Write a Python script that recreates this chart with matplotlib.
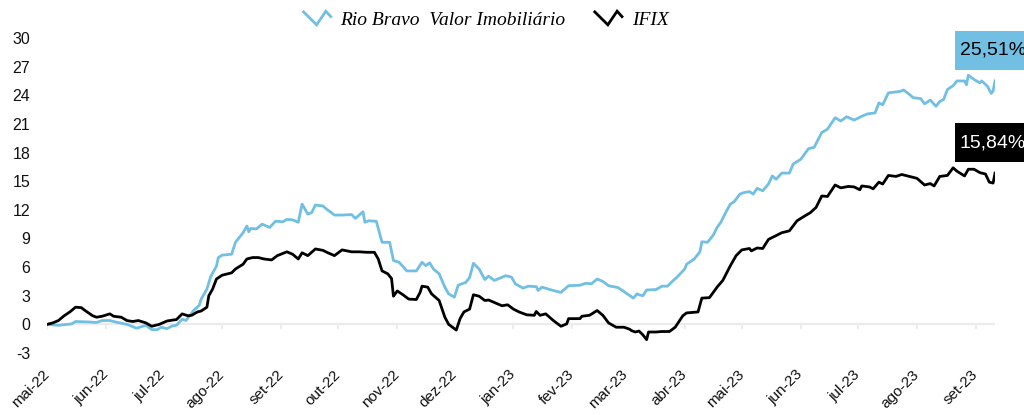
import numpy as np
import pandas as pd
import matplotlib
matplotlib.use("Agg")
import matplotlib.pyplot as plt
from matplotlib.lines import Line2D
from matplotlib.legend_handler import HandlerBase
from matplotlib.patches import Rectangle

# ---------------- data ----------------
base_date = "2022-05-01"

rb_days = [0, 6, 13, 15, 22, 26, 29, 33, 36, 42, 47, 52, 55, 58, 60, 63, 66, 68, 71, 73,
           75, 77, 80, 81, 84, 86, 89, 90, 92, 97, 99, 103, 105, 106, 107, 110, 113, 117, 120, 124,
           126, 129, 132, 134, 137, 139, 141, 145, 147, 151, 155, 160, 162, 166, 167, 169, 173, 176, 180, 182,
           185, 189, 194, 197, 199, 201, 203, 206, 209, 211, 214, 216, 220, 222, 224, 227, 230, 232, 235, 238,
           241, 244, 246, 250, 253, 257, 258, 260, 265, 270, 274, 280, 283, 286, 289, 292, 295, 300, 303, 308,
           310, 311, 313, 315, 320, 323, 326, 329, 331, 335, 336, 340, 343, 344, 347, 350, 352, 354, 357, 359,
           361, 364, 366, 369, 371, 373, 376, 379, 381, 383, 386, 390, 392, 396, 400, 403, 407, 410, 414, 417,
           420, 424, 428, 431, 435, 437, 439, 442, 448, 450, 453, 455, 459, 461, 464, 467, 469, 471, 473, 476,
           478, 482, 483, 484, 487, 490, 491, 494, 496, 497, 498]
rb_vals = [0.0, -0.1, 0.05, 0.3, 0.25, 0.2, 0.4, 0.4, 0.25, 0.0, -0.4, -0.1, -0.55, -0.55, -0.3, -0.45, -0.15, -0.1, 0.55, 0.4,
           0.9, 1.45, 2.0, 2.65, 3.7, 5.0, 6.1, 7.0, 7.25, 7.35, 8.6, 9.6, 10.3, 9.7, 10.05, 10.0, 10.5, 10.15, 10.8, 10.75,
           11.0, 10.95, 10.7, 12.6, 11.55, 11.7, 12.5, 12.4, 12.05, 11.45, 11.45, 11.5, 11.1, 11.8, 10.7, 10.85, 10.8, 8.6, 8.6, 6.7,
           6.5, 5.6, 5.6, 6.5, 6.15, 6.45, 5.8, 5.3, 3.9, 3.2, 2.85, 4.1, 4.4, 4.9, 6.4, 5.8, 4.7, 5.05, 4.6, 4.85,
           5.1, 4.95, 4.25, 3.8, 4.0, 3.95, 3.55, 3.9, 3.6, 3.35, 4.05, 4.1, 4.3, 4.25, 4.75, 4.5, 4.05, 3.85, 3.45, 2.75,
           3.2, 3.1, 3.0, 3.6, 3.65, 4.0, 4.0, 4.6, 4.95, 5.8, 6.3, 6.85, 7.6, 8.65, 8.6, 9.35, 10.15, 10.7, 11.9, 12.6,
           12.85, 13.65, 13.8, 13.9, 13.65, 14.25, 14.0, 14.7, 15.55, 15.2, 15.85, 15.85, 16.8, 17.3, 18.4, 18.55, 20.1, 20.45, 21.65, 21.3,
           21.75, 21.4, 21.8, 22.05, 22.15, 23.2, 23.0, 24.25, 24.4, 24.55, 24.1, 23.75, 23.65, 23.1, 23.5, 22.85, 23.35, 23.55, 24.6, 25.0,
           25.5, 25.5, 25.1, 26.1, 25.65, 25.3, 25.5, 24.95, 24.2, 24.45, 25.51]

ifix_days = [0, 3, 6, 9, 12, 15, 18, 20, 24, 26, 29, 33, 35, 39, 42, 45, 48, 52, 55, 59,
             63, 66, 68, 71, 74, 76, 79, 81, 84, 85, 87, 89, 92, 97, 99, 103, 105, 108, 111, 114,
             118, 121, 126, 129, 132, 134, 137, 141, 145, 147, 151, 155, 160, 164, 168, 172, 174, 176, 179, 181,
             182, 184, 187, 190, 194, 196, 197, 200, 202, 206, 209, 211, 215, 217, 219, 222, 224, 227, 230, 232,
             236, 239, 242, 245, 248, 252, 256, 257, 259, 262, 266, 270, 273, 274, 280, 281, 285, 289, 292, 295,
             299, 303, 306, 307, 309, 310, 311, 313, 315, 316, 320, 323, 327, 330, 334, 336, 342, 344, 348, 352,
             355, 359, 362, 365, 369, 370, 373, 376, 379, 382, 386, 390, 394, 398, 401, 404, 407, 410, 414, 417,
             421, 424, 427, 428, 432, 434, 437, 439, 442, 446, 449, 453, 457, 461, 464, 466, 469, 473, 476, 478,
             482, 484, 487, 490, 493, 495, 497, 498]
ifix_vals = [0.0, 0.15, 0.4, 0.9, 1.3, 1.8, 1.75, 1.45, 0.9, 0.75, 0.85, 1.1, 0.85, 0.75, 0.4, 0.3, 0.4, 0.15, -0.2, 0.0,
             0.35, 0.45, 0.5, 1.1, 0.9, 0.95, 1.3, 1.4, 1.8, 3.0, 3.7, 4.75, 5.15, 5.4, 5.8, 6.3, 6.85, 7.0, 7.0, 6.85,
             6.75, 7.2, 7.6, 7.35, 6.85, 7.5, 7.2, 7.9, 7.75, 7.55, 7.2, 7.8, 7.6, 7.6, 7.55, 7.55, 6.85, 5.6, 5.3, 4.8,
             2.95, 3.5, 3.1, 2.65, 2.6, 3.35, 4.0, 3.9, 3.2, 2.5, 0.75, 0.0, -0.6, 0.6, 1.3, 1.6, 3.1, 2.95, 2.5, 2.55,
             2.2, 1.95, 2.05, 1.6, 1.3, 1.0, 0.95, 1.35, 0.95, 1.1, 0.4, -0.2, 0.05, 0.6, 0.6, 0.85, 0.95, 1.45, 0.95, 0.15,
             -0.3, -0.3, -0.5, -0.65, -0.8, -0.75, -0.7, -1.1, -1.6, -0.8, -0.8, -0.75, -0.75, -0.3, 0.9, 1.2, 1.3, 2.75, 2.8, 3.9,
             4.6, 6.15, 7.2, 7.8, 7.95, 7.7, 8.0, 7.95, 8.9, 9.2, 9.6, 9.8, 10.85, 11.35, 11.7, 12.25, 13.45, 13.4, 14.6, 14.3,
             14.45, 14.4, 14.1, 14.5, 14.4, 14.2, 14.9, 14.7, 15.6, 15.5, 15.7, 15.5, 15.3, 14.6, 14.75, 14.5, 15.5, 15.6, 16.4, 16.05,
             15.55, 16.25, 16.25, 15.9, 15.75, 14.9, 14.8, 15.84]

month_ticks = pd.date_range("2022-05-01", "2023-09-01", freq="MS")
month_labels = ["mai-22", "jun-22", "jul-22", "ago-22", "set-22", "out-22", "nov-22", "dez-22",
                "jan-23", "fev-23", "mar-23", "abr-23", "mai-23", "jun-23", "jul-23", "ago-23", "set-23"]
y_ticks = [-3, 0, 3, 6, 9, 12, 15, 18, 21, 24, 27, 30]

series_names = ["Rio Bravo  Valor Imobiliário", "IFIX"]
final_labels = ["25,51%", "15,84%"]

# ---------------- style ----------------
BLUE = "#71BFE3"
BLACK = "#000000"
SANS = ["Liberation Sans", "DejaVu Sans"]
SERIF = ["Liberation Serif", "DejaVu Serif"]

t0 = pd.Timestamp(base_date)
rb_x = t0 + pd.to_timedelta(rb_days, unit="D")
ifix_x = t0 + pd.to_timedelta(ifix_days, unit="D")

fig = plt.figure(figsize=(10.24, 4.15), dpi=100)
ax = fig.add_axes([47 / 1024, 1 - 353 / 415, (995 - 47) / 1024, (353 - 38) / 415])

l1, = ax.plot(rb_x, rb_vals, color=BLUE, lw=2.0, solid_joinstyle="round", zorder=3)
l2, = ax.plot(ifix_x, ifix_vals, color=BLACK, lw=2.0, solid_joinstyle="round", zorder=4)

ax.set_xlim(t0, t0 + pd.Timedelta(days=498))
ax.set_ylim(-3, 30)

for s in ax.spines.values():
    s.set_visible(False)

# zero baseline and small tick marks
ax.axhline(0, color="#ebebeb", lw=1.6, zorder=1)
for d in month_ticks:
    ax.plot([d, d], [0, -0.45], color="#ebebeb", lw=1.3, zorder=1, solid_capstyle="butt")

ax.set_yticks(y_ticks)
ax.set_yticklabels([str(v) for v in y_ticks], fontsize=11.5, family=SANS, color="#111111")
ax.tick_params(axis="y", length=0, pad=12)

ax.set_xticks(month_ticks)
ax.set_xticklabels(month_labels, rotation=45, ha="right", va="center",
                   rotation_mode="anchor", fontsize=11, family=SANS, color="#111111")
ax.tick_params(axis="x", length=0, pad=14)

# end-value boxes
end_day = t0 + pd.Timedelta(days=477)
box_w = pd.Timedelta(days=40)
for vals, col, tcol, txt in [(rb_vals, BLUE, BLACK, final_labels[0]),
                             (ifix_vals, BLACK, "white", final_labels[1])]:
    yc = vals[-1] + 3.2
    rect = Rectangle((end_day, yc - 2.05), box_w, 4.1, facecolor=col, edgecolor="none",
                     clip_on=False, zorder=5)
    ax.add_patch(rect)
    ax.text(end_day + pd.Timedelta(days=2.5), yc, txt, color=tcol, fontsize=14, family=SANS,
            ha="left", va="center", clip_on=False, zorder=6)


# legend with zigzag handles
class ZigzagHandler(HandlerBase):
    def create_artists(self, legend, orig_handle, xdescent, ydescent, width, height, fontsize, trans):
        xs = np.array([0.0, 0.48, 0.82, 1.0]) * width - xdescent
        ys = (np.array([0.95, 0.0, 1.0, 0.6]) * 1.0 + 0.0) * height - ydescent
        ln = Line2D(xs, ys, color=orig_handle.get_color(), lw=2.0, transform=trans,
                    solid_joinstyle="miter")
        return [ln]


leg = fig.legend([l1, l2], series_names, loc="center", bbox_to_anchor=(486 / 1024, 1 - 20 / 415),
                 ncol=2, frameon=False, handlelength=1.4, handletextpad=0.5, columnspacing=1.5,
                 handler_map={Line2D: ZigzagHandler()},
                 prop={"family": SERIF, "style": "italic", "size": 14})

fig.savefig("out.png", dpi=100)
